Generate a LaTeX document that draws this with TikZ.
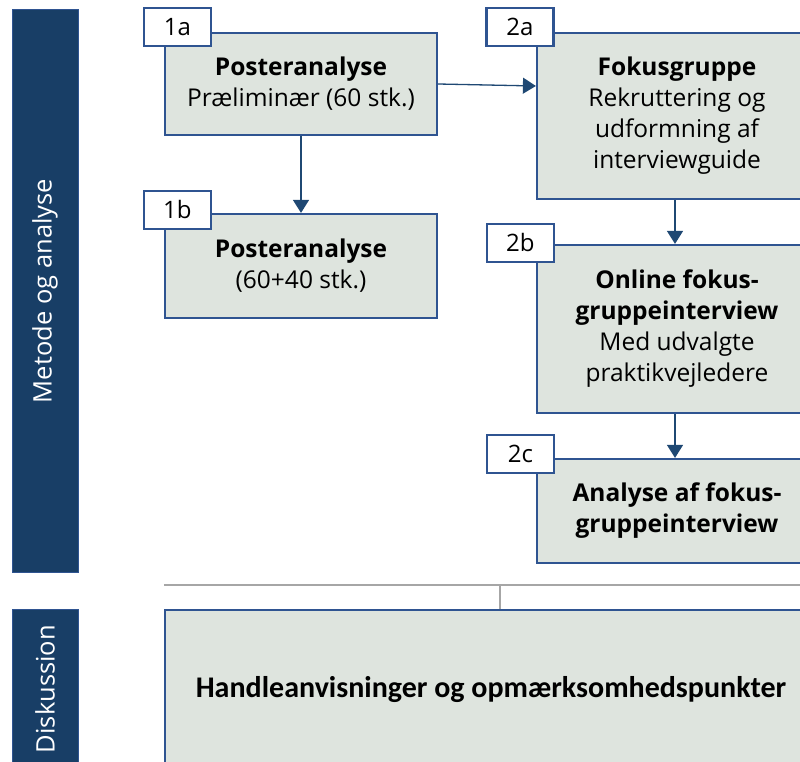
\documentclass[tikz,border=0pt]{standalone}
\usepackage{fontspec}
\setmainfont{Open Sans}
\newfontfamily\calibrifont{Carlito}
\usetikzlibrary{positioning, shapes, arrows.meta}

\definecolor{barblue}{RGB}{24,62,102}
\definecolor{boxline}{RGB}{47,84,145}
\definecolor{boxfill}{RGB}{222,228,222}
\definecolor{arrowblue}{RGB}{31,72,115}
\definecolor{sepgray}{RGB}{166,166,166}

\begin{document}
\begin{tikzpicture}[
        x=1pt, y=1pt,
        box/.style={rectangle, draw=boxline, line width=2.2pt, fill=boxfill, inner sep=0pt, align=center, font=\fontsize{24.5}{31}\selectfont},
        tag/.style={rectangle, draw=boxline, line width=2.2pt, fill=white, inner sep=0pt, minimum width=67pt, minimum height=38pt, font=\fontsize{24}{28}\selectfont},
        bar/.style={rectangle, fill=barblue, draw=boxline, line width=1pt, rotate=90, inner sep=0pt, minimum height=66pt, text=white, font=\fontsize{25.5}{30}\selectfont},
        arrow/.style={-{Triangle[width=16pt, length=13pt]}, draw=arrowblue, fill=arrowblue, line width=1.3pt},
        sepline/.style={draw=sepgray, line width=2pt}
    ]

    \useasboundingbox (0,0) rectangle (800,-762);
    \clip (0,0) rectangle (800,-762);

    % phase bars
    \node[bar, minimum width=562pt] (metode) at (45,-291) {Metode og analyse};
    \node[bar, minimum width=160pt] (diskbar) at (45,-689) {Diskussion};

    % track 1
    \node[box, minimum width=272pt, minimum height=102pt] (p1a) at (301,-84) {\textbf{Posteranalyse}\\Præliminær (60 stk.)};
    \node[box, minimum width=272pt, minimum height=104pt] (p1b) at (301,-266) {\textbf{Posteranalyse}\\(60+40 stk.)};

    % track 2
    \node[box, minimum width=280pt, minimum height=166pt] (p2a) at (677,-116) {\textbf{Fokusgruppe}\\Rekruttering og\\udformning af\\interviewguide};
    \node[box, minimum width=280pt, minimum height=168pt] (p2b) at (677,-329) {\textbf{Online fokus-}\\\textbf{gruppeinterview}\\Med udvalgte\\praktikvejledere};
    \node[box, minimum width=280pt, minimum height=104pt] (p2c) at (677,-511) {\textbf{Analyse af fokus-}\\\textbf{gruppeinterview}};

    % discussion
    \node[box, minimum width=652pt, minimum height=160pt, font=\calibrifont\fontsize{30}{34}\selectfont] (disk) at (491,-690) {\textbf{Handleanvisninger og opmærksomhedspunkter}};

    % step tags
    \node[tag] (t1a) at ([shift={(13.5,4.5)}]p1a.north west) {1a};
    \node[tag] (t1b) at ([shift={(13.5,3)}]p1b.north west) {1b};
    \node[tag] (t2a) at ([shift={(-16,5)}]p2a.north west) {2a};
    \node[tag] (t2b) at ([shift={(-15.5,1)}]p2b.north west) {2b};
    \node[tag] (t2c) at ([shift={(-15.5,4)}]p2c.north west) {2c};

    \draw[arrow] (p1a) -- (p1b);
    \draw[arrow] (p1a.east) -- ([yshift=-2pt]p1a.east -| p2a.west);
    \draw[arrow] ([xshift=-2pt]p2a.south) -- ([xshift=-2pt]p2b.north);
    \draw[arrow] ([xshift=-2pt]p2b.south) -- ([xshift=-2pt]p2c.north);

    % bracket into discussion
    \coordinate (join) at (500,-585);
    \draw[sepline] (join -| disk.west) -- (join -| disk.east);
    \draw[sepline] (join) -- (join |- disk.north);

\end{tikzpicture}
\end{document}
